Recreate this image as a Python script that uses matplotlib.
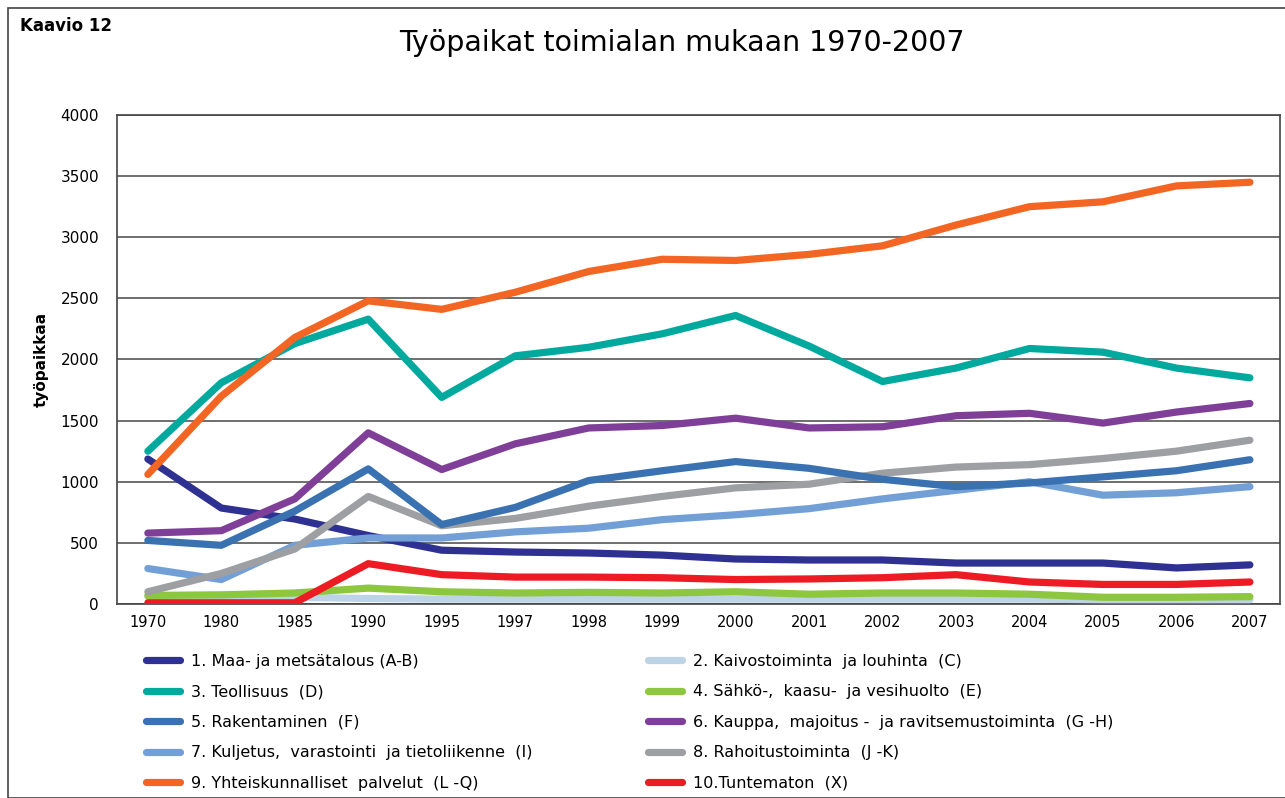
import matplotlib
matplotlib.use("Agg")
import matplotlib.pyplot as plt
from matplotlib.patches import Rectangle
from matplotlib.lines import Line2D

years = ["1970", "1980", "1985", "1990", "1995", "1997", "1998", "1999",
         "2000", "2001", "2002", "2003", "2004", "2005", "2006", "2007"]

maa = [1186, 785, 695, 560, 440, 425, 417, 400, 368, 360, 360, 335, 335, 335, 295, 320]
kaivos = [60, 55, 55, 45, 40, 40, 40, 40, 40, 40, 40, 40, 40, 35, 35, 35]
teollisuus = [1250, 1810, 2130, 2330, 1690, 2030, 2100, 2210, 2360, 2110, 1820, 1930, 2090, 2060, 1930, 1850]
sahko = [70, 75, 90, 130, 100, 90, 95, 90, 100, 80, 90, 90, 80, 55, 55, 60]
rakentaminen = [520, 480, 760, 1105, 650, 790, 1010, 1090, 1165, 1110, 1020, 960, 990, 1040, 1090, 1180]
kauppa = [580, 600, 860, 1400, 1100, 1310, 1440, 1460, 1520, 1440, 1450, 1540, 1560, 1480, 1570, 1640]
kuljetus = [290, 200, 480, 540, 540, 590, 620, 690, 730, 780, 860, 930, 1000, 890, 910, 960]
rahoitus = [100, 250, 450, 880, 640, 700, 800, 880, 950, 980, 1070, 1120, 1140, 1190, 1250, 1340]
palvelut = [1060, 1700, 2180, 2480, 2410, 2550, 2720, 2820, 2810, 2860, 2930, 3100, 3250, 3290, 3420, 3450]
tuntematon = [10, 10, 10, 330, 240, 220, 220, 215, 200, 205, 215, 240, 180, 160, 160, 180]

labels = ["1. Maa- ja metsätalous (A-B)", "2. Kaivostoiminta  ja louhinta  (C)",
          "3. Teollisuus  (D)", "4. Sähkö-,  kaasu-  ja vesihuolto  (E)",
          "5. Rakentaminen  (F)", "6. Kauppa,  majoitus -  ja ravitsemustoiminta  (G -H)",
          "7. Kuljetus,  varastointi  ja tietoliikenne  (I)", "8. Rahoitustoiminta  (J -K)",
          "9. Yhteiskunnalliset  palvelut  (L -Q)", "10.Tuntematon  (X)"]
colors = ["#2e3192", "#bdd4e6", "#00a99d", "#8dc63f", "#3a72b1",
          "#7f3f98", "#72a0d6", "#9d9fa2", "#f26522", "#ed1c24"]
series = [maa, kaivos, teollisuus, sahko, rakentaminen, kauppa, kuljetus, rahoitus, palvelut, tuntematon]

plt.rcParams['font.family'] = ['DejaVu Sans']

fig = plt.figure(figsize=(12.85, 7.98), dpi=100)
fig.add_artist(Rectangle((8 / 1285, 0), 1.0, 1 - 8 / 798, transform=fig.transFigure,
                         fill=False, edgecolor="#444444", linewidth=1.2))

ax = fig.add_axes([117 / 1285, 1 - 604 / 798, (1280 - 117) / 1285, (604 - 115) / 798])
x = list(range(len(years)))
draw_order = [1, 3, 9, 0, 6, 7, 4, 5, 2, 8]
for i in draw_order:
    ax.plot(x, series[i], color=colors[i], linewidth=5.2, solid_capstyle="round",
            solid_joinstyle="round", label=labels[i], zorder=3)

ax.set_xlim(-0.42, 15.41)
ax.set_ylim(0, 4000)
ax.set_yticks(range(0, 4001, 500))
ax.set_xticks(x)
ax.set_xticklabels(years)
ax.tick_params(axis="both", length=0, pad=8)
ax.tick_params(axis="x", labelsize=10.5)
ax.tick_params(axis="y", labelsize=11, pad=13)
ax.grid(axis="y", color="#555555", linewidth=1.2)
ax.set_axisbelow(True)
for s in ax.spines.values():
    s.set_color("#444444")
    s.set_linewidth(1.2)
ax.set_ylabel("työpaikkaa", fontsize=11, fontweight="bold", labelpad=8)

fig.text(20 / 1285, 1 - 26 / 798, "Kaavio 12", fontsize=12, fontweight="bold", va="center")
fig.text(682 / 1285, 1 - 43 / 798, "Työpaikat toimialan mukaan 1970-2007", fontsize=20.5,
         ha="center", va="center")

def mk(i):
    return Line2D([0], [0], color=colors[i], linewidth=5.2, solid_capstyle="round")

kw = dict(loc="upper left", frameon=False, fontsize=11.5, handlelength=2.1, handletextpad=0.7,
          labelspacing=0.97, borderaxespad=0, borderpad=0)
leg1 = fig.legend([mk(i) for i in [0, 2, 4, 6, 8]], [labels[i] for i in [0, 2, 4, 6, 8]],
                  bbox_to_anchor=(146 / 1285, 1 - 654 / 798), **kw)
leg2 = fig.legend([mk(i) for i in [1, 3, 5, 7, 9]], [labels[i] for i in [1, 3, 5, 7, 9]],
                  bbox_to_anchor=(648 / 1285, 1 - 654 / 798), **kw)

fig.savefig("out.png", dpi=100)
